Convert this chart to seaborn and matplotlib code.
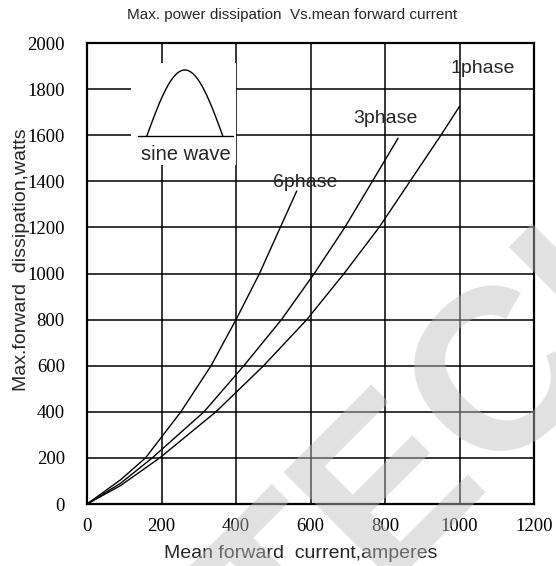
import numpy as np
import pandas as pd
import matplotlib
matplotlib.use('Agg')
import matplotlib.pyplot as plt
from matplotlib import font_manager
import seaborn as sns

# values
x_1phase = [0, 90, 195, 346, 474, 590, 690, 784, 867, 950, 1000]
y_1phase = [0, 80, 200, 400, 600, 800, 1000, 1200, 1400, 1600, 1725]

x_3phase = [0, 90, 175, 314, 421, 522, 610, 692, 766, 835]
y_3phase = [0, 90, 200, 400, 600, 800, 1000, 1200, 1400, 1587]

x_6phase = [0, 90, 157, 252, 333, 400, 463, 516, 563]
y_6phase = [0, 105, 200, 400, 600, 800, 1000, 1190, 1358]

phase_names = ['1phase', '3phase', '6phase']
label_x = [1063, 800, 585]
label_y = [1888, 1672, 1395]

x_ticks = [0, 200, 400, 600, 800, 1000, 1200]
y_ticks = [0, 200, 400, 600, 800, 1000, 1200, 1400, 1600, 1800, 2000]


def build_frame():
    '''
    long table for seaborn
    '''
    parts = []
    for name, xs, ys in zip(phase_names, [x_1phase, x_3phase, x_6phase],
                            [y_1phase, y_3phase, y_6phase]):
        parts.append(pd.DataFrame({'current': xs, 'power': ys, 'phase': name}))
    return pd.concat(parts, ignore_index=True)


sns.set_style('white')
available = {f.name for f in font_manager.fontManager.ttflist}
narrow = 'Liberation Sans Narrow' if 'Liberation Sans Narrow' in available else 'Liberation Sans'
title_size = 13.4 if narrow == 'Liberation Sans Narrow' else 11
plt.rcParams['font.family'] = ['Liberation Sans', 'DejaVu Sans']

df = build_frame()

fig = plt.figure(figsize=(5.56, 5.66), dpi=100)
ax = fig.add_axes([0.1565, 0.1095, 0.804, 0.8145])

sns.lineplot(data=df, x='current', y='power', hue='phase', units='phase',
             estimator=None, sort=False, palette=['black'] * 3, legend=False,
             linewidth=1.0, ax=ax, zorder=3)

ax.set_xlim(0, 1200)
ax.set_ylim(0, 2000)
ax.set_xticks(x_ticks)
ax.set_yticks(y_ticks)
ax.grid(True, color='black', linewidth=1.1)
ax.set_axisbelow(True)
for s in ax.spines.values():
    s.set_visible(True)
    s.set_color('black')
    s.set_linewidth(1.6)
ax.tick_params(axis='both', length=0, labelsize=13.5, colors='black')
ax.tick_params(axis='y', pad=16)
ax.tick_params(axis='x', pad=10)
for lab in ax.get_xticklabels() + ax.get_yticklabels():
    lab.set_fontfamily('Liberation Serif')

ax.set_xlabel('Mean forward  current,amperes', fontsize=14)
ax.set_ylabel('Max.forward  dissipation,watts', fontsize=14)
ax.xaxis.set_label_coords(0.479, -0.088)
ax.yaxis.set_label_coords(-0.128, 0.531)

for name, lx, ly in zip(phase_names, label_x, label_y):
    ax.text(lx, ly, name, fontsize=14, ha='center', va='center', zorder=4)

# sine wave sketch
ins = ax.inset_axes([0.098, 0.735, 0.235, 0.222])
ins.set_facecolor('white')
ins.set_xticks([])
ins.set_yticks([])
for s in ins.spines.values():
    s.set_visible(False)
ins.set_xlim(0, 1)
ins.set_ylim(0, 1)
t = np.linspace(0, np.pi, 100)
ins.plot([0.067, 0.971], [0.284, 0.284], color='black', lw=1.0)
ins.plot(0.152 + (0.876 - 0.152) * t / np.pi, 0.284 + (0.93 - 0.284) * np.sin(t),
         color='black', lw=1.0)
ins.text(0.52, 0.1, 'sine wave', fontsize=14.5, ha='center', va='center')

fig.text(0.525, 1 - 15 / 566, 'Max. power dissipation  Vs.mean forward current',
         ha='center', va='center', fontsize=title_size, family=narrow)

# watermark
fig.text(0.833, 0.244, 'TECH', rotation=45, rotation_mode='anchor',
         ha='center', va='center', fontsize=165, fontweight='bold',
         color='#bdbdbd', alpha=0.45, zorder=10)

fig.savefig('out.png', dpi=100)
